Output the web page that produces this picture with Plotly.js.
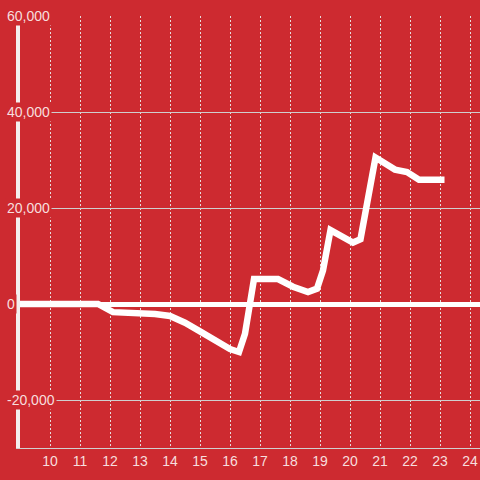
<!DOCTYPE html>
<html>
<head>
<meta charset="utf-8">
<script src="https://cdn.plot.ly/plotly-3.0.1.min.js"></script>
<style>
  html, body { margin: 0; padding: 0; background: #cd2a30; }
  #chart { width: 480px; height: 480px; }
</style>
</head>
<body>
<div id="chart"></div>
<script>
// Data
const hours = [9, 11.6, 12.1, 13, 13.5, 14, 14.5, 15, 15.5, 16, 16.3, 16.5, 16.8, 17.6, 18.1, 18.6, 18.9, 19.1, 19.35, 20.1, 20.35, 20.85, 21.5, 21.9, 22.3, 23.15];
const values = [0, 0, -1700, -1900, -2100, -2500, -3900, -5700, -7700, -9400, -10000, -6200, 5200, 5200, 3600, 2500, 3200, 7000, 15400, 12800, 13500, 30500, 28000, 27500, 25900, 25900];
const xTicks = [10, 11, 12, 13, 14, 15, 16, 17, 18, 19, 20, 21, 22, 23, 24];
const yTicks = [-20000, 0, 20000, 40000, 60000];
const yTickLabels = ['-20,000', '0', '20,000', '40,000', '60,000'];

const bg = '#cd2a30';
const labelColor = '#f7dede';

const trace = {
  x: hours,
  y: values,
  type: 'scatter',
  mode: 'lines',
  line: { color: '#ffffff', width: 6.5 },
  hoverinfo: 'skip'
};

const annotations = yTicks.map((v, i) => ({
  xref: 'paper', yref: 'y',
  x: 0, y: v,
  xanchor: 'left', yanchor: 'middle',
  xshift: -15,
  text: yTickLabels[i],
  showarrow: false,
  bgcolor: bg,
  borderpad: 1,
  font: { family: 'Liberation Sans, Arial, sans-serif', size: 14, color: labelColor }
}));

const layout = {
  width: 480, height: 480,
  margin: { l: 20, r: 0, t: 16, b: 32, pad: 0 },
  paper_bgcolor: bg,
  plot_bgcolor: bg,
  showlegend: false,
  font: { family: 'Liberation Sans, Arial, sans-serif', size: 14, color: labelColor },
  xaxis: {
    range: [9, 24.3333],
    tickvals: xTicks,
    ticktext: xTicks.map(String),
    showgrid: true,
    gridcolor: '#e6dcdc',
    griddash: '2px,2px',
    gridwidth: 1,
    zeroline: false,
    showline: true,
    linecolor: '#d0d0d0',
    linewidth: 1,
    ticks: '',
    tickfont: { size: 14, color: labelColor }
  },
  yaxis: {
    range: [-30000, 60000],
    tickvals: yTicks,
    showticklabels: false,
    showgrid: true,
    gridcolor: '#cfcfcf',
    gridwidth: 1,
    zeroline: true,
    zerolinecolor: '#ffffff',
    zerolinewidth: 5,
    showline: true,
    linecolor: '#f4eeee',
    linewidth: 4,
    ticks: ''
  },
  annotations: annotations
};

Plotly.newPlot('chart', [trace], layout, { displayModeBar: false, staticPlot: true });
</script>
</body>
</html>
